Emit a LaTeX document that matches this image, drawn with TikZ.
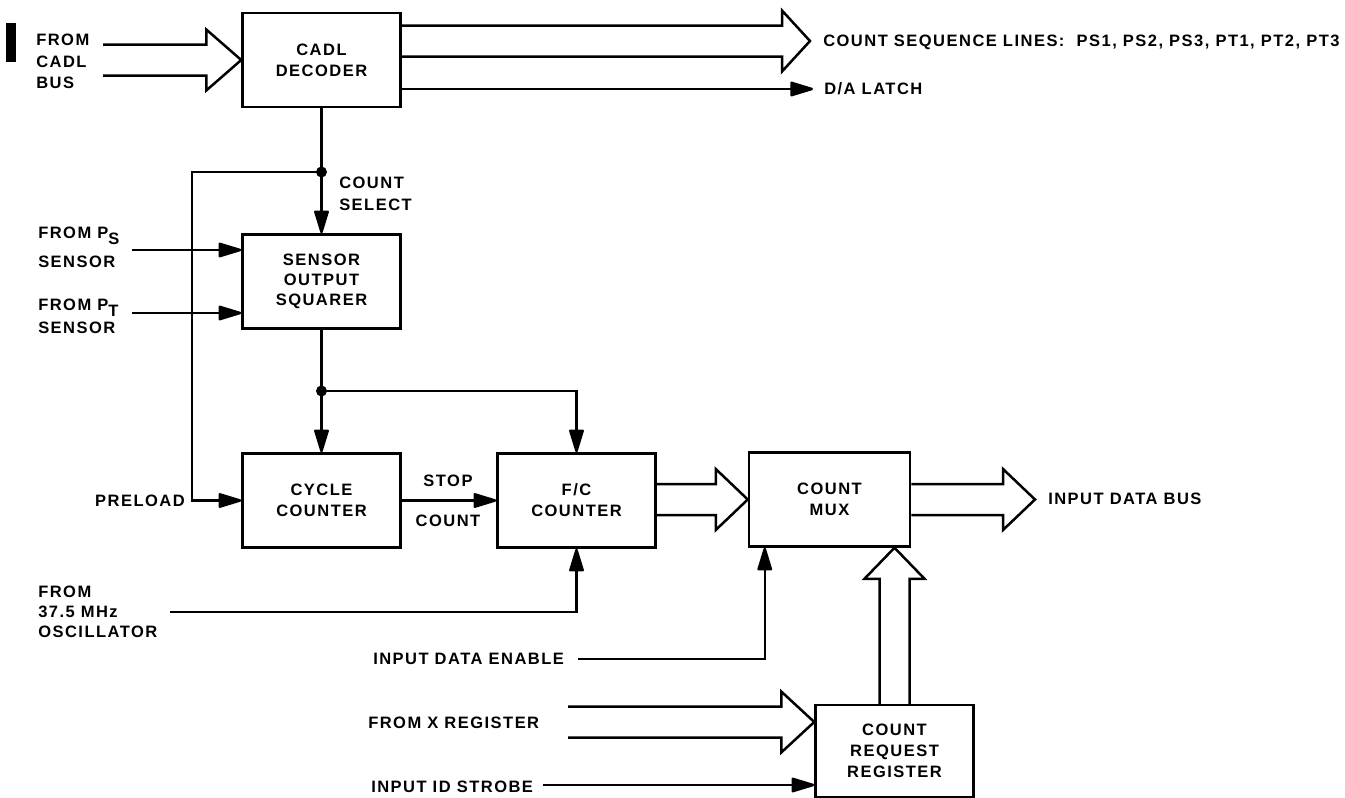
\documentclass[tikz,border=0pt]{standalone}
\usepackage{fontspec}
\setmainfont{Liberation Sans}[LetterSpace=9]
\usetikzlibrary{arrows.meta,calc}
\newcommand\lowsub[1]{\raisebox{-6pt}[0pt][0pt]{#1}}
\newcommand\hbus[3]{%
  \draw[bus] ($(#1 |- #2)+(0,15.5pt)$) -- ($(#2)+(-#3pt,15.5pt)$) -- ($(#2)+(-#3pt,30.5pt)$) -- (#2)
    -- ($(#2)+(-#3pt,-30.5pt)$) -- ($(#2)+(-#3pt,-15.5pt)$) -- ($(#1 |- #2)+(0,-15.5pt)$);}
\begin{document}
\begin{tikzpicture}[x=1pt,y=-1pt, line width=2.5pt,
  every node/.style={font=\fontsize{16.5}{21}\selectfont\bfseries, inner sep=0pt},
  block/.style={draw, minimum width=158pt, minimum height=94pt, align=center},
  sig/.style={-{Triangle[length=26pt,width=15pt,round]}},
  bus/.style={line join=miter},
  lbl/.style={anchor=west, align=left}]
\useasboundingbox (0,0) rectangle (1345,798);

% blocks
\node[block] (cadl) at (321.5,60) {CADL\\DECODER};
\node[block, font=\fontsize{16.5}{20}\selectfont\bfseries] (sos) at (321.5,281.5) {SENSOR\\OUTPUT\\SQUARER};
\node[block] (cyc) at (321.5,500.5) {CYCLE\\COUNTER};
\node[block] (fc) at (576.5,500.5) {F/C\\COUNTER};
\node[block, minimum width=161pt] (mux) at (829.5,499.5) {COUNT\\MUX};
\node[block, minimum height=92pt, font=\fontsize{16.5}{21}\selectfont\bfseries] (crr) at (894.5,751) {COUNT\\REQUEST\\REGISTER};

% coordinates
\coordinate (j1) at (321.5,172);
\coordinate (j2) at (321.5,391);
\coordinate (fb) at (192,172);
\coordinate (osc) at (170,612);
\coordinate (ide) at (578,659);
\coordinate (ids) at (543,785);
\coordinate (ps) at (132,250);
\coordinate (pt) at (132,313);
\coordinate (da) at (813,89);
\coordinate (cin) at (103,60);
\coordinate (csl) at (810,41);
\coordinate (ibus) at (1035,499.5);
\coordinate (xr) at (568,722);
\coordinate (xt) at (xr -| crr.west);
\coordinate (tu) at (crr.north |- mux.south);

% signal lines
\draw[sig] (cadl.south) -- (sos.north);
\fill (j1) circle (5.5pt);
\draw[sig] (j1) -- (fb) |- (cyc.west);
\draw[sig] (sos.south) -- (cyc.north);
\fill (j2) circle (5.5pt);
\draw[sig] (j2) -| (fc.north);
\draw[sig] (cyc.east) -- (fc.west);
\draw[sig] (osc) -| (fc.south);
\draw[sig] (ide) -| ([xshift=17pt]mux.south west);
\draw[sig] (ids) -- (ids -| crr.west);
\draw[sig] (ps) -- (ps -| sos.west);
\draw[sig] (pt) -- (pt -| sos.west);
\draw[sig] (da -| cadl.east) -- (da);

% bus arrows
\hbus{cin}{cadl.west}{35}
\hbus{cadl.east}{csl}{28}
\hbus{fc.east}{mux.west}{32}
\hbus{mux.east}{ibus}{32}
\hbus{xr}{xt}{33}
\draw[bus] ($(crr.north)+(-15pt,0)$) -- ($(tu)+(-15pt,-31pt)$) -- ($(tu)+(-30pt,-31pt)$) -- (tu)
  -- ($(tu)+(30pt,-31pt)$) -- ($(tu)+(15pt,-31pt)$) -- ($(crr.north)+(15pt,0)$);

% labels
\fill (6,23) rectangle (16,62);
\node[lbl, font=\fontsize{16.5}{21.5}\selectfont\bfseries] (tcadl) at (35,61.5) {FROM\\CADL\\BUS};
\node[anchor=west] (tcs1) at (338,183) {COUNT};
\node[anchor=west] (tcs2) at (338,205) {SELECT};
\node[anchor=west] (tps1) at (37,233) {FROM P\lowsub{S}};
\node[anchor=west] (tps2) at (37,262) {SENSOR};
\node[anchor=west] (tpt1) at (37,305) {FROM P\lowsub{T}};
\node[anchor=west] (tpt2) at (37,328) {SENSOR};
\node[anchor=east] (tpre) at (186,501) {PRELOAD};
\node[lbl, font=\fontsize{16.5}{20}\selectfont\bfseries] (tosc) at (37,612) {FROM\\37.5 MHz\\OSCILLATOR};
\node (tstop) at (448,481) {STOP};
\node (tcnt) at (448,521) {COUNT};
\node[anchor=west] (tide) at (372,659) {INPUT DATA ENABLE};
\node[anchor=west] (txr) at (367,723) {FROM X REGISTER};
\node[anchor=west] (tids) at (370,787) {INPUT ID STROBE};
\node[anchor=west] (tda) at (823,89) {D/A LATCH};
\node[anchor=west] (tcsl) at (822,42) {COUNT SEQUENCE LINES:\ \ PS1, PS2, PS3, PT1, PT2, PT3};
\node[anchor=west] (tbus) at (1047,499) {INPUT DATA BUS};
\end{tikzpicture}
\end{document}
